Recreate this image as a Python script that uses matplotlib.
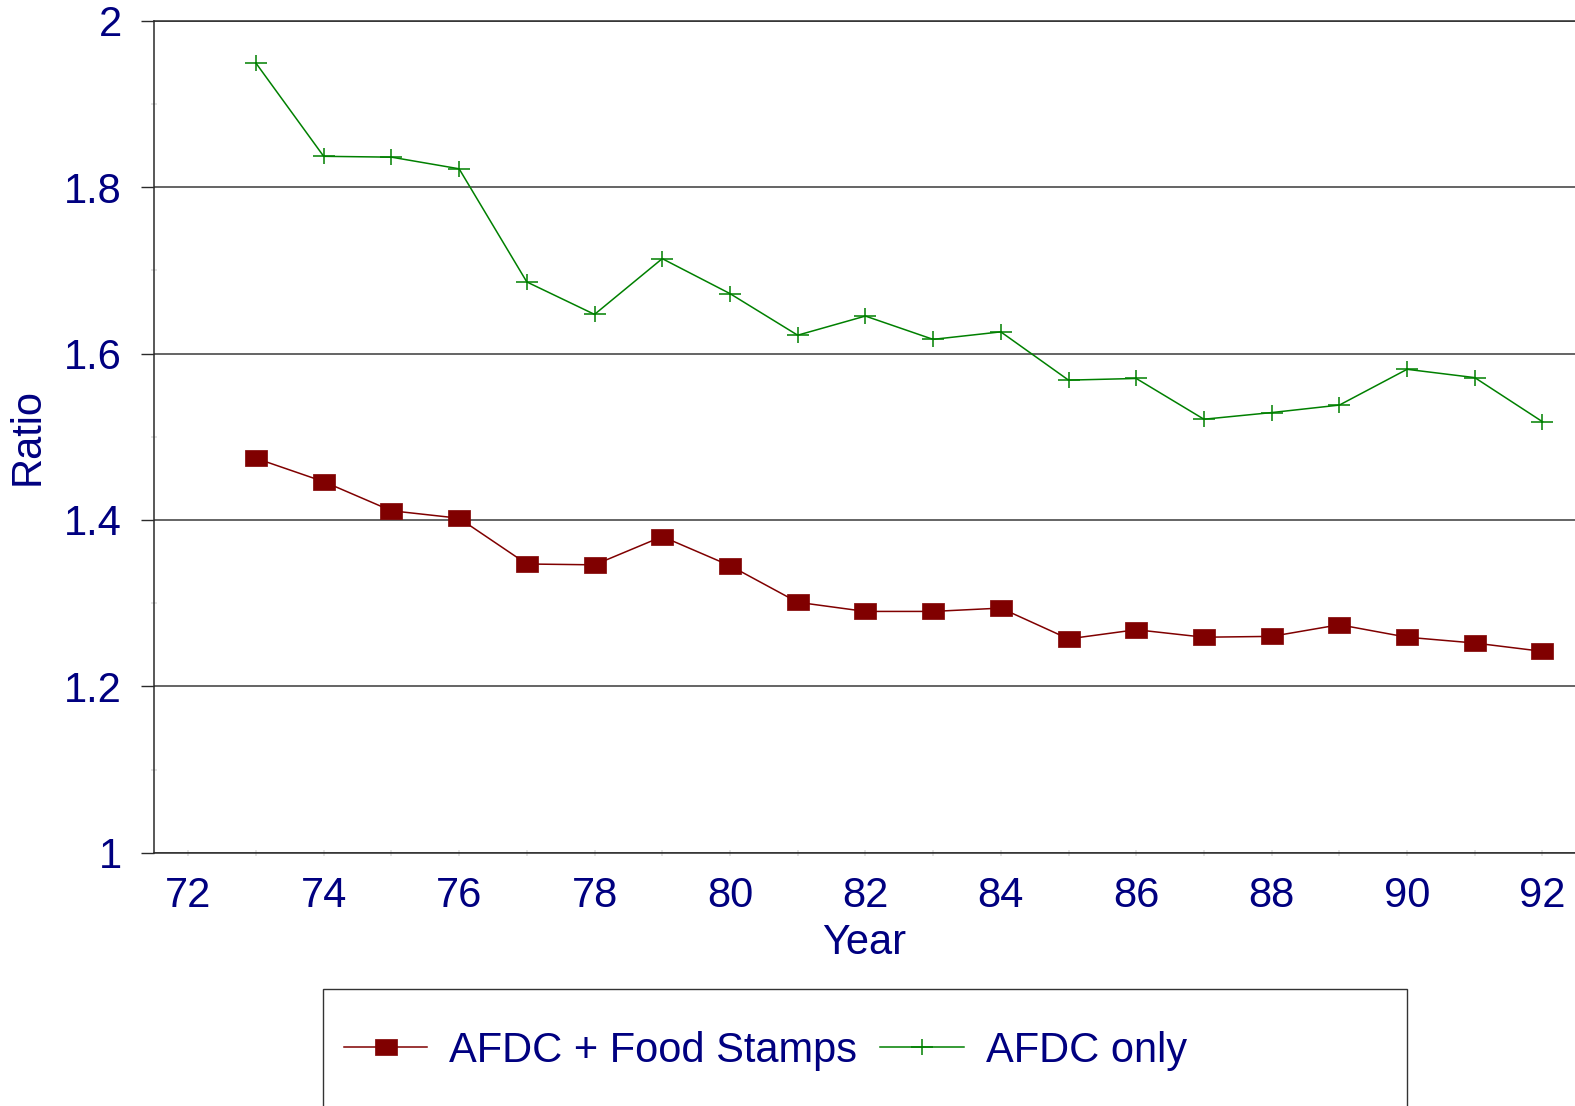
import matplotlib
matplotlib.use("Agg")
import matplotlib.pyplot as plt
from matplotlib.path import Path
from matplotlib.patches import Rectangle
from matplotlib.ticker import MultipleLocator

# data
years = list(range(73, 93))
afdc_fs = [1.474, 1.446, 1.411, 1.402, 1.347, 1.346, 1.380, 1.345, 1.301, 1.290,
           1.290, 1.294, 1.257, 1.268, 1.259, 1.260, 1.274, 1.259, 1.252, 1.242]
afdc_only = [1.949, 1.837, 1.836, 1.822, 1.686, 1.647, 1.714, 1.672, 1.622, 1.645,
             1.617, 1.626, 1.568, 1.570, 1.521, 1.529, 1.538, 1.581, 1.571, 1.518]
xticks = list(range(72, 93, 2))
yticks = [1, 1.2, 1.4, 1.6, 1.8, 2]

NAVY = "#000080"
RED = "#800000"
GREEN = "#008000"
FS = 30

plt.rcParams["font.family"] = ["Liberation Sans", "DejaVu Sans"]

# markers are a bit wider than tall in the original
box = Path([(-11, -8.5), (11, -8.5), (11, 8.5), (-11, 8.5), (-11, -8.5)],
           [Path.MOVETO, Path.LINETO, Path.LINETO, Path.LINETO, Path.CLOSEPOLY])
plus = Path([(-11, 0), (11, 0), (0, -8.5), (0, 8.5)],
            [Path.MOVETO, Path.LINETO, Path.MOVETO, Path.LINETO])

fig = plt.figure(figsize=(15.75, 11.06), dpi=100)
ax = fig.add_axes([154.4/1575, 1 - 852.7/1106, (1575-154.4)/1575, (852.7-20.7)/1106])

l1, = ax.plot(years, afdc_fs, color=RED, lw=1.1, marker=box, markersize=15.8,
              markerfacecolor=RED, markeredgecolor=RED, markeredgewidth=0.5,
              label="AFDC + Food Stamps")
l2, = ax.plot(years, afdc_only, color=GREEN, lw=1.1, marker=plus, markersize=15.8,
              markerfacecolor="none", markeredgecolor=GREEN, markeredgewidth=1.1,
              label="AFDC only")

# plot runs past the right edge of the image
ax.set_xlim(71.5, 92.48)
ax.set_ylim(1, 2)
ax.set_xticks(xticks)
ax.set_xticklabels([str(t) for t in xticks])
ax.xaxis.set_minor_locator(MultipleLocator(1))
ax.set_yticks(yticks)
ax.set_yticklabels(["1", "1.2", "1.4", "1.6", "1.8", "2"])
ax.yaxis.set_minor_locator(MultipleLocator(0.1))

ax.grid(True, axis="y", which="major", color="#3a3a3a", lw=1.1)
ax.set_axisbelow(True)
ax.spines["right"].set_visible(False)
for s in ["left", "bottom", "top"]:
    ax.spines[s].set_color("#2a2a2a")
    ax.spines[s].set_linewidth(1.1)

ax.tick_params(axis="x", which="both", direction="inout", length=4, width=1.2,
               color="#e0e0e0", labelsize=FS, labelcolor=NAVY, pad=15)
ax.tick_params(axis="y", which="major", direction="out", length=9.4, width=1.0,
               color="#2a2a2a", labelsize=FS, labelcolor=NAVY, pad=14)
ax.tick_params(axis="y", which="minor", direction="inout", length=4, width=1.2,
               color="#e0e0e0")

ax.set_xlabel("Year", fontsize=FS, color=NAVY, labelpad=5)
ax.set_ylabel("Ratio", fontsize=FS, color=NAVY, labelpad=12)

# legend box, cut off by the bottom edge like the original
fig.patches.append(Rectangle((323/1575, -0.01), (1407-323)/1575, 0.01 + (1106-989)/1106,
                             transform=fig.transFigure, fill=False,
                             edgecolor="#333333", lw=1.0))
fig.legend(handles=[l1, l2], loc="center left",
           bbox_to_anchor=(344/1575, 1 - 1051/1106), ncol=2, frameon=False,
           fontsize=FS, labelcolor=NAVY, numpoints=1, borderpad=0,
           borderaxespad=0, handlelength=2.0, handletextpad=0.53,
           columnspacing=0.55)

fig.savefig("out.png", dpi=100)
